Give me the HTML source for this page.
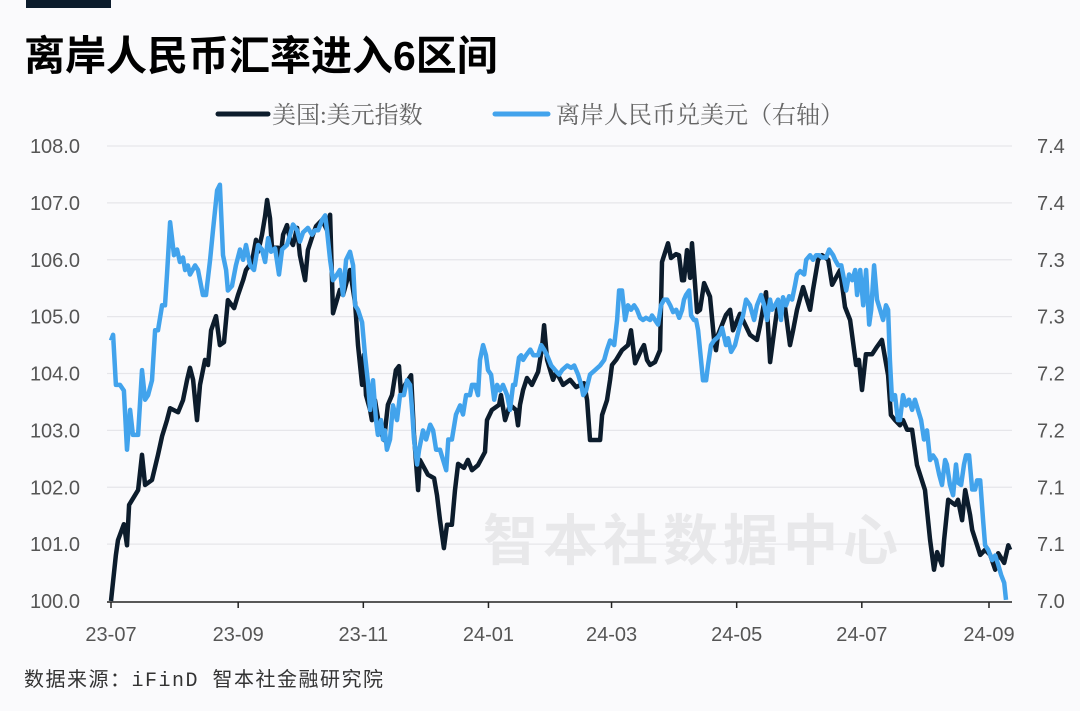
<!DOCTYPE html>
<html><head><meta charset="utf-8">
<style>
html,body{margin:0;padding:0;background:#fafafc;}
body{width:1080px;height:706px;overflow:hidden;position:relative;font-family:"Liberation Sans","Noto Sans CJK SC",sans-serif;}
</style></head>
<body>
<svg id="chart" width="1080" height="706" viewBox="0 0 1080 706" xmlns="http://www.w3.org/2000/svg">
<rect x="26" y="0" width="85" height="8" fill="#0c1c2c"/>
<text x="24" y="70" font-size="41" font-weight="bold" fill="#000" font-family="'Liberation Sans','Noto Sans CJK SC',sans-serif">离岸人民币汇率进入6区间</text>
<g>
<g>
<line x1="218" y1="114" x2="268" y2="114" stroke="#0c1c2c" stroke-width="5" stroke-linecap="round"/>
<text x="272" y="123" font-size="24" fill="#666" font-family="'Liberation Serif','Noto Serif CJK SC',serif">美国:美元指数</text>
</g>
<g>
<line x1="495" y1="114" x2="548" y2="114" stroke="#42a3ec" stroke-width="5" stroke-linecap="round"/>
<text x="556" y="123" font-size="24" fill="#666" font-family="'Liberation Serif','Noto Serif CJK SC',serif">离岸人民币兑美元（右轴）</text>
</g>
</g>
<g id="grid"></g>
<text x="483" y="560" font-size="55" font-weight="bold" fill="#e8e8ea" letter-spacing="5" font-family="'Liberation Sans','Noto Sans CJK SC',sans-serif">智本社数据中心</text>
<g id="yl"></g>
<g id="yr"></g>
<g id="xa"></g>
<g id="series"></g>
<text x="24" y="686" font-size="20" fill="#333" letter-spacing="1.5" font-family="'Liberation Mono','Noto Sans CJK SC',monospace">数据来源：iFinD 智本社金融研究院</text>
</svg>
<script>
const leftTicks=[100,101,102,103,104,105,106,107,108];
const rightTicks=[7.0,7.05,7.1,7.15,7.2,7.25,7.3,7.35,7.4];
const xTickLabels=["23-07","23-09","23-11","24-01","24-03","24-05","24-07","24-09"];
const xTickDays=[0,62,123,184,244,305,366,428];
const dxyDays=[0,2.4,3.4,6.3,7.8,8.8,13.2,15.1,16.6,20,22.9,24.9,27.3,28.8,32.7,35.1,37.1,38.5,40,41.9,43.4,45.8,47.3,48.8,51.2,53.1,55.1,57,60,61.9,64.4,65.8,68.7,70.7,71.7,73.6,75.1,76.1,77.5,78.5,81.4,82.4,83.9,85.8,87.3,88.7,90.7,92.1,94.6,96,98.5,100,102.9,105.3,106.8,108.2,111.6,113.1,116.5,119,120.4,122.4,123.3,124.3,126.3,127.2,128.7,131.1,133.1,135,137,138.9,140.4,141.4,143.3,146.3,147.7,149.7,150.6,154.5,157.5,158.9,160.4,162.3,163.8,166.2,167.7,169.2,172.1,174,176,178.9,182.3,183.3,185.7,189.2,190.1,192.1,194.5,197.4,198.4,199.4,200.9,202.8,205.2,208.2,210.1,211.1,212.6,215.5,217,220.4,223.8,226.7,230.6,232.1,233.5,236.9,238.4,239.4,241.8,243.3,244.2,246.2,249.1,252,253.5,255.5,258.4,259.8,261.3,262.8,265.2,267.6,268.6,271.5,273,275.4,276.9,278.4,279.3,280.8,282.3,283.2,285.7,287.1,289.1,292,294,294.9,295.9,299.8,301.8,303.2,306.6,311.5,314.9,316.4,319.3,321.3,322.7,324.7,328.1,331,332.5,334.4,337.4,340.8,342.2,344.7,346.6,349.6,351.5,355.4,357.8,360.3,363.2,364.6,366.1,368,371,373.4,375.8,378.8,380.2,382.2,384.6,386.1,388.1,390.5,392.9,396.8,397.8,399.3,401.2,402.7,405.1,406.1,408.1,411.5,412.9,414.9,416.4,418.8,419.8,423.7,426.1,428.6,431,432.5,435.4,437.4,438.3];
const dxyValues=[100,100.81,101.07,101.35,100.98,101.69,101.95,102.57,102.04,102.13,102.57,102.9,103.18,103.39,103.32,103.53,103.89,104.1,103.89,103.18,103.8,104.24,104.15,104.76,105.01,104.5,104.55,105.29,105.15,105.38,105.64,105.82,105.96,106.35,106.14,106.44,106.77,107.05,106.73,106.21,106.21,105.96,106.44,106.61,106.35,106.26,106.56,106.08,105.64,106.17,106.45,106.59,106.7,106.52,106.79,105.06,105.47,105.38,105.82,105.24,104.5,103.8,104.33,103.62,103.36,103.18,103.53,103.01,102.83,103.45,103.62,104.06,104.13,103.62,103.8,103.97,102.92,101.95,102.48,102.22,102.16,101.86,101.42,100.93,101.34,101.34,101.95,102.41,102.34,102.48,102.3,102.39,102.62,103.18,103.36,103.45,103.62,103.18,103.45,103.36,103.09,103.45,103.71,103.92,103.8,104.03,104.45,104.85,104.24,103.89,104.03,103.8,103.89,103.76,103.83,103.53,102.83,102.83,102.83,103.27,103.53,103.89,104.15,104.24,104.41,104.5,104.76,104.18,104.41,104.5,104.24,104.15,104.2,104.41,105.96,106.29,106.03,106.1,106.08,105.64,105.64,106.17,105.68,106.29,105.08,105.12,105.59,105.35,104.59,104.41,104.68,105.03,105.12,104.76,105.05,104.68,104.59,104.85,105.43,104.2,104.59,105.12,105.29,104.5,104.76,105.12,105.52,105.12,105.47,106,106.08,106,105.56,105.82,105.17,104.94,104.15,104.24,103.71,104.34,104.34,104.47,104.59,103.97,103.27,103.18,103.09,103.18,103.01,103.01,102.39,101.95,101.6,101.07,100.55,100.86,100.63,101.07,101.78,101.69,101.78,101.42,101.95,101.51,101.25,100.81,100.9,100.81,100.55,100.84,100.67,100.98,100.9];
const cnhDays=[0,1,2.4,4.4,6.3,7.8,9.3,10.7,13.2,15.1,16.6,18.1,20,21.5,22.9,24.9,26.3,27.3,28.8,30.7,32.2,33.6,35.1,36.1,37.5,38.5,41,42.4,44.8,46.3,48.3,49.7,51.7,53.1,54.6,56.1,57,59,60.9,62.9,64.4,65.8,67.8,69.7,71.7,73.6,75.1,76.6,78,80,81.9,83.4,85.8,87.3,88.7,90.7,92.1,93.6,96,98,99.5,101,102.9,104.4,105.3,106.8,108.2,110.2,111.6,113.1,114.6,116.5,118,119,120.4,122.4,123.8,125.3,126.3,127.7,129.2,130.1,131.6,132.6,133.5,134.5,136,137.4,139.4,140.9,142.8,144.3,145.8,146.8,147.7,149.2,150.2,152.1,153.6,155.6,157,158.5,160.4,161.9,163.4,164.4,166.2,168.2,170.2,171.6,173.1,175,176,177.5,178.9,179.9,181.4,182.8,183.8,185.3,186.8,188.2,189.6,191.1,193.1,194.5,196,197,198.9,199.9,200.9,202.3,204.4,205.9,208.2,209.7,211.1,212.6,214.6,216.5,218.5,219.9,222.4,224.3,225.8,227.7,229.2,230.2,231.6,233.5,236,238.4,240.4,241.8,243.3,245.3,246.7,247.7,249.1,250.6,252,253.5,255,256.4,257.9,259.4,260.8,262.8,263.7,265.2,266.7,268.1,269.6,271.1,272.6,274,275.5,277,278.4,279.3,280.3,281.8,282.8,284.2,285.2,286.2,287.1,288.6,290.1,291,292.5,294,295.9,296.9,297.9,299.8,300.8,302.3,304.2,306.6,308.1,309.6,311.5,313.5,314.9,316.9,318.4,319.8,321.3,322.2,323.7,325.2,326.6,327.6,329.1,330.6,332,333.5,334.4,335.9,337.9,338.9,340.8,342.2,343.7,345.2,346.6,348.6,350.1,352,353,354.5,356,356.9,358.4,359.8,361.3,362.8,363.7,365.2,366.7,368.1,369.6,370.6,372,373.4,374.9,376.4,377.8,378.8,379.7,380.7,382.2,383.6,384.6,386.1,387.5,389,390.5,391.9,393.4,394.9,396.3,397.8,399.3,400.7,402.2,403.7,405.1,406.6,407.5,409,410.5,411.9,412.9,414.4,415.8,416.8,418.3,419.8,421.2,422.2,423.7,425.1,426.1,427.6,429.5,431,432.5,433.9,435.4,436.3];
const cnhValues=[7.229,7.234,7.19,7.19,7.185,7.133,7.168,7.146,7.146,7.203,7.177,7.181,7.194,7.238,7.238,7.26,7.26,7.287,7.333,7.304,7.309,7.298,7.302,7.291,7.295,7.287,7.295,7.291,7.269,7.269,7.3,7.326,7.361,7.366,7.304,7.291,7.273,7.277,7.295,7.309,7.3,7.313,7.295,7.291,7.313,7.309,7.298,7.319,7.307,7.31,7.287,7.309,7.313,7.322,7.331,7.326,7.316,7.324,7.328,7.322,7.326,7.326,7.335,7.339,7.326,7.3,7.282,7.287,7.291,7.269,7.3,7.307,7.295,7.26,7.256,7.245,7.216,7.192,7.168,7.194,7.159,7.146,7.159,7.142,7.15,7.133,7.142,7.172,7.159,7.181,7.181,7.194,7.19,7.168,7.142,7.12,7.133,7.15,7.142,7.155,7.15,7.133,7.133,7.124,7.115,7.142,7.142,7.164,7.172,7.164,7.181,7.181,7.19,7.19,7.181,7.212,7.225,7.216,7.203,7.199,7.177,7.19,7.185,7.19,7.181,7.168,7.19,7.19,7.214,7.216,7.212,7.216,7.221,7.216,7.216,7.225,7.221,7.216,7.207,7.203,7.199,7.203,7.207,7.205,7.207,7.199,7.19,7.181,7.185,7.199,7.203,7.207,7.212,7.221,7.229,7.225,7.247,7.273,7.273,7.247,7.26,7.256,7.26,7.256,7.249,7.247,7.249,7.247,7.251,7.247,7.243,7.26,7.265,7.265,7.26,7.254,7.256,7.249,7.256,7.265,7.269,7.273,7.251,7.247,7.247,7.238,7.221,7.194,7.194,7.207,7.225,7.229,7.232,7.235,7.24,7.225,7.231,7.219,7.225,7.243,7.251,7.265,7.26,7.247,7.26,7.269,7.26,7.247,7.265,7.256,7.26,7.265,7.247,7.267,7.26,7.268,7.265,7.278,7.287,7.29,7.287,7.3,7.304,7.3,7.304,7.304,7.302,7.302,7.309,7.304,7.3,7.295,7.295,7.287,7.273,7.287,7.282,7.291,7.269,7.291,7.26,7.291,7.243,7.256,7.295,7.265,7.256,7.247,7.26,7.256,7.212,7.177,7.181,7.159,7.159,7.181,7.172,7.177,7.168,7.177,7.168,7.159,7.142,7.15,7.124,7.128,7.124,7.111,7.102,7.124,7.12,7.102,7.093,7.12,7.104,7.102,7.12,7.128,7.128,7.098,7.098,7.106,7.106,7.071,7.049,7.045,7.036,7.04,7.032,7.023,7.016,7.001];

const NS="http://www.w3.org/2000/svg";
const X0=111,X1=989,Y0=601,Y1=146;
function xs(d){return X0+d*(X1-X0)/428;}
function yL(v){return Y0-(v-100)*(Y0-Y1)/8;}
function yR(v){return Y0-(v-7.0)*(Y0-Y1)/0.4;}
function mk(tag,attrs,parent){const e=document.createElementNS(NS,tag);for(const k in attrs)e.setAttribute(k,attrs[k]);parent.appendChild(e);return e;}

const grid=document.getElementById('grid'),yl=document.getElementById('yl'),yr=document.getElementById('yr'),xa=document.getElementById('xa'),ser=document.getElementById('series');
leftTicks.forEach((v,i)=>{
  const y=yL(v);
  if(i>0){const g=mk('line',{x1:107,x2:1012,y1:y,y2:y,stroke:'#e6e6ea','stroke-width':1.2},grid);
  
  }
  const t=mk('text',{x:80,y:y+7,'text-anchor':'end','font-size':20,fill:'#555'},yl);
  t.textContent=v.toFixed(1);
  
  
});
rightTicks.forEach(v=>{
  const t=mk('text',{x:1037,y:yR(v)+7,'font-size':20,fill:'#555'},yr);
  t.textContent=(Math.round(v*10+1e-6)/10).toFixed(1);
  
  
});
const ax=mk('line',{x1:107,x2:1012,y1:Y0+1,y2:Y0+1,stroke:'#222','stroke-width':1.5},xa);


xTickDays.forEach((d,i)=>{
  const x=xs(d);
  const tk=mk('line',{x1:x,x2:x,y1:Y0+1,y2:Y0+7,stroke:'#222','stroke-width':1.5},xa);
  
  
  const t=mk('text',{x:x,y:641,'text-anchor':'middle','font-size':20,fill:'#555'},xa);
  t.textContent=xTickLabels[i];
  
  
});
const dPts=dxyDays.map((d,i)=>xs(d).toFixed(1)+','+yL(dxyValues[i]).toFixed(1)).join(' ');
const dl=mk('polyline',{points:dPts,fill:'none',stroke:'#0c1c2c','stroke-width':4.5,'stroke-linejoin':'round'},ser);


const cPts=cnhDays.map((d,i)=>xs(d).toFixed(1)+','+yR(cnhValues[i]).toFixed(1)).join(' ');
const cl=mk('polyline',{points:cPts,fill:'none',stroke:'#42a3ec','stroke-width':4.5,'stroke-linejoin':'round'},ser);


</script>
</body></html>
